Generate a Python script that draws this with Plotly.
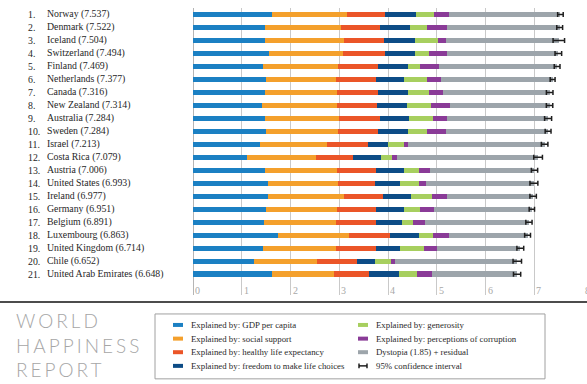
import plotly.graph_objects as go

# ---------------- data ----------------
ranks = [f"{i}." for i in range(1, 22)]
countries = ["Norway", "Denmark", "Iceland", "Switzerland", "Finland", "Netherlands",
             "Canada", "New Zealand", "Australia", "Sweden", "Israel", "Costa Rica",
             "Austria", "United States", "Ireland", "Germany", "Belgium", "Luxembourg",
             "United Kingdom", "Chile", "United Arab Emirates"]
scores = [7.537, 7.522, 7.504, 7.494, 7.469, 7.377, 7.316, 7.314, 7.284, 7.284, 7.213,
          7.079, 7.006, 6.993, 6.977, 6.951, 6.891, 6.863, 6.714, 6.652, 6.648]
gdp = [1.616, 1.482, 1.481, 1.565, 1.444, 1.504, 1.479, 1.406, 1.484, 1.494, 1.375,
       1.110, 1.487, 1.546, 1.536, 1.488, 1.464, 1.742, 1.442, 1.253, 1.626]
social = [1.534, 1.551, 1.611, 1.517, 1.540, 1.429, 1.481, 1.548, 1.510, 1.478, 1.376,
          1.416, 1.460, 1.420, 1.558, 1.473, 1.462, 1.458, 1.497, 1.284, 1.266]
health = [0.797, 0.793, 0.834, 0.858, 0.809, 0.811, 0.835, 0.817, 0.844, 0.831, 0.838,
          0.760, 0.815, 0.774, 0.810, 0.799, 0.818, 0.845, 0.805, 0.819, 0.726]
freedom = [0.635, 0.626, 0.627, 0.620, 0.618, 0.585, 0.611, 0.614, 0.602, 0.613, 0.406,
           0.580, 0.567, 0.505, 0.573, 0.563, 0.540, 0.597, 0.508, 0.377, 0.608]
generosity = [0.362, 0.355, 0.476, 0.291, 0.245, 0.470, 0.436, 0.500, 0.478, 0.385, 0.330,
              0.215, 0.316, 0.393, 0.428, 0.336, 0.231, 0.283, 0.493, 0.327, 0.361]
corruption = [0.316, 0.401, 0.154, 0.367, 0.383, 0.283, 0.287, 0.383, 0.301, 0.384, 0.085,
              0.100, 0.221, 0.136, 0.298, 0.277, 0.252, 0.319, 0.265, 0.082, 0.324]
dystopia = [2.277, 2.314, 2.323, 2.277, 2.430, 2.295, 2.187, 2.046, 2.066, 2.097, 2.802,
            2.898, 2.139, 2.218, 1.773, 2.015, 2.124, 1.619, 1.704, 2.511, 1.738]
whisker_high = [7.594, 7.582, 7.622, 7.562, 7.528, 7.427, 7.384, 7.380, 7.356, 7.344, 7.280,
                7.168, 7.070, 7.074, 7.043, 7.006, 6.955, 6.923, 6.784, 6.739, 6.722]
whisker_low = [7.480, 7.462, 7.386, 7.426, 7.410, 7.327, 7.249, 7.248, 7.212, 7.224, 7.146,
               6.990, 6.941, 6.912, 6.911, 6.896, 6.827, 6.803, 6.644, 6.565, 6.574]

x_ticks = [0, 1, 2, 3, 4, 5, 6, 7, 8]

series_names = ["Explained by: GDP per capita", "Explained by: social support",
                "Explained by: healthy life expectancy", "Explained by: freedom to make life choices",
                "Explained by: generosity", "Explained by: perceptions of corruption",
                "Dystopia (1.85) + residual"]
ci_name = "95% confidence interval"
series_values = [gdp, social, health, freedom, generosity, corruption, dystopia]
colors = ["#1b80c3", "#f4a02c", "#eb5528", "#0d4c86", "#a7cf5f", "#8a3b97", "#9da5ab"]

# ---------------- layout geometry (px) ----------------
W, H = 587, 384
L, R, T, B = 193, 4, 7.5, 89
plot_w = W - L - R
plot_h = H - T - B


def px_x(x):
    return (x - L) / plot_w


def px_y(y):
    return (H - B - y) / plot_h


fig = go.Figure()

for name, vals, col in zip(series_names, series_values, colors):
    fig.add_trace(go.Bar(
        y=countries, x=vals, orientation="h", name=name,
        marker=dict(color=col, line=dict(width=0)),
        width=0.42, showlegend=False, hoverinfo="x+name",
    ))

fig.add_trace(go.Scatter(
    y=countries, x=scores, mode="markers", name=ci_name,
    marker=dict(size=1, color="rgba(0,0,0,0)"),
    error_x=dict(type="data", symmetric=False,
                 array=[h - s for h, s in zip(whisker_high, scores)],
                 arrayminus=[s - l for s, l in zip(scores, whisker_low)],
                 color="#1e1e1e", thickness=1.5, width=2.5),
    showlegend=False,
))

annotations = []
serif = "Liberation Serif"
lab_font = dict(family=serif, size=9.8, color="#262626")
# row labels
for i, (rk, c, s) in enumerate(zip(ranks, countries, scores)):
    annotations.append(dict(x=px_x(27), xref="paper", y=c, yref="y", text=rk,
                            showarrow=False, xanchor="left", yanchor="middle", borderpad=0,
                            font=lab_font))
    annotations.append(dict(x=px_x(46), xref="paper", y=c, yref="y",
                            text=f"{c} ({s:.3f})",
                            showarrow=False, xanchor="left", yanchor="middle", borderpad=0,
                            font=lab_font))
# x tick labels inside plot near bottom
for t in x_ticks:
    annotations.append(dict(x=t, xref="x", y=px_y(290), yref="paper", text=str(t),
                            showarrow=False, xanchor="left", yanchor="middle", xshift=1,
                            borderpad=0,
                            font=dict(family=serif, size=10, color="#a8a8a8")))

# logo
for txt, yy in [("WORLD", 321), ("HAPPINESS", 345.5), ("REPORT", 369.5)]:
    annotations.append(dict(x=px_x(15), xref="paper", y=px_y(yy), yref="paper",
                            text=f'<span style="letter-spacing:3px">{txt}</span>',
                            showarrow=False, xanchor="left", yanchor="middle", borderpad=0,
                            font=dict(family="Lato", size=19, color="#a6a6a6", weight=300)))

shapes = []
# bottom separator line
shapes.append(dict(type="line", xref="paper", yref="paper", x0=px_x(0), x1=px_x(W),
                   y0=px_y(302), y1=px_y(302), line=dict(color="#111", width=1.6)))
# legend box
shapes.append(dict(type="rect", xref="paper", yref="paper", x0=px_x(155), x1=px_x(545),
                   y0=px_y(314), y1=px_y(379), line=dict(color="#a0a0a0", width=1),
                   fillcolor="rgba(0,0,0,0)"))

rows_y = [325, 338.7, 352.3, 366]
legend_items = list(zip(series_names, colors)) + [(ci_name, None)]
for k, (nm, col) in enumerate(legend_items):
    colx = 0 if k < 4 else 1
    ry = rows_y[k % 4]
    sx0, tx = (173, 190) if colx == 0 else (358, 375)
    if col is not None:
        shapes.append(dict(type="rect", xref="paper", yref="paper",
                           x0=px_x(sx0), x1=px_x(sx0 + 10), y0=px_y(ry - 2), y1=px_y(ry + 2),
                           line=dict(width=0), fillcolor=col))
    else:
        shapes.append(dict(type="line", xref="paper", yref="paper",
                           x0=px_x(sx0 + 1), x1=px_x(sx0 + 9), y0=px_y(ry), y1=px_y(ry),
                           line=dict(color="#111", width=1.4)))
        for ex in (sx0 + 1, sx0 + 9):
            shapes.append(dict(type="line", xref="paper", yref="paper",
                               x0=px_x(ex), x1=px_x(ex), y0=px_y(ry - 2.5), y1=px_y(ry + 2.5),
                               line=dict(color="#111", width=1.4)))
    annotations.append(dict(x=px_x(tx), xref="paper", y=px_y(ry), yref="paper", text=nm,
                            showarrow=False, xanchor="left", yanchor="middle", borderpad=0,
                            font=dict(family=serif, size=8.8, color="#2a2a2a")))

fig.update_layout(
    width=W, height=H,
    margin=dict(l=L, r=R, t=T, b=B, pad=0),
    barmode="stack",
    bargap=0,
    plot_bgcolor="white", paper_bgcolor="white",
    showlegend=False,
    xaxis=dict(range=[0, 8], tickvals=x_ticks, showticklabels=False, ticks="",
               showgrid=True, gridcolor="#c9c9c9", gridwidth=1,
               zeroline=True, zerolinecolor="#b5b5b5", zerolinewidth=1,
               showline=False, fixedrange=True),
    yaxis=dict(categoryorder="array", categoryarray=countries,
               range=[21.6, -0.5], showticklabels=False, ticks="",
               showgrid=False, zeroline=False, showline=False, fixedrange=True),
    annotations=annotations,
    shapes=shapes,
)

fig.write_html("out.html", config={"displayModeBar": False},
               post_script="document.body.style.margin='0';")
